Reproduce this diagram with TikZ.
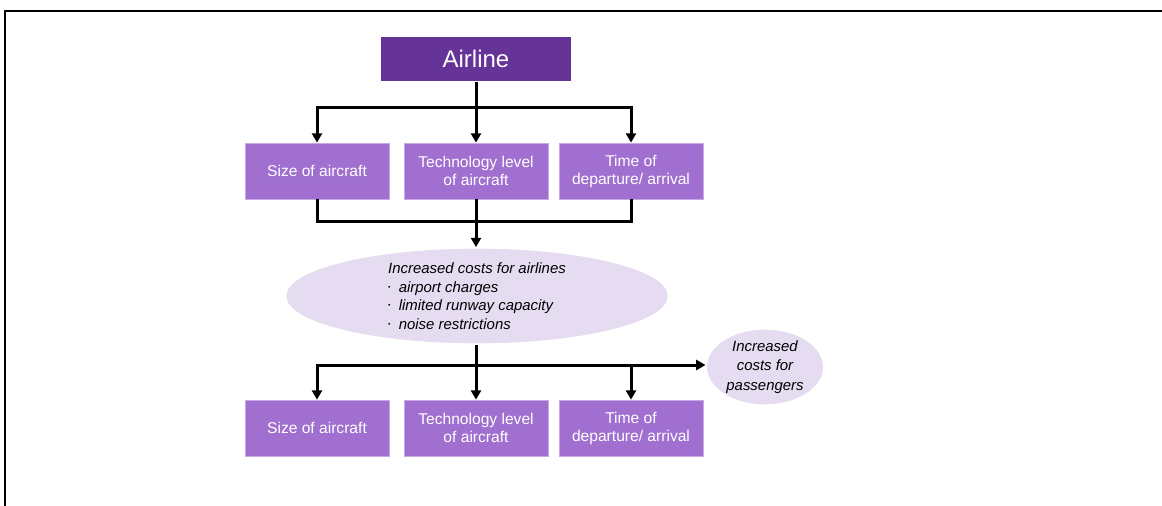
\documentclass[tikz,border=0pt]{standalone}
\usepackage{fontspec}
\setmainfont{Liberation Sans}
\usetikzlibrary{arrows.meta,shapes.geometric}
\definecolor{darkpurple}{HTML}{663399}
\definecolor{boxpurple}{HTML}{A06FCF}
\definecolor{lavender}{HTML}{E6DCF2}
\newcommand{\costdot}{\raisebox{0.18em}{\scalebox{0.45}{\textbullet}}\hspace{0.55em}}
\begin{document}
\begin{tikzpicture}[x=0.75pt,y=-0.75pt,>={Triangle[length=7pt,width=7.5pt]},line width=2.25pt]
\tikzset{
  airline/.style={fill=darkpurple,text=white,inner sep=0pt,minimum width=143pt,minimum height=33pt,font=\fontsize{18}{21}\selectfont},
  factor/.style={fill=boxpurple,draw=boxpurple!60!white,line width=0.5pt,text=white,align=center,inner sep=0pt,minimum width=108pt,minimum height=42pt,font=\fontsize{11.7}{13.5}\selectfont},
  cost/.style={ellipse,fill=lavender,inner sep=0pt,font=\fontsize{11.2}{14}\selectfont\itshape}
}
\useasboundingbox (0,0) rectangle (1162,506);
\draw[line width=1.5pt] (5,506) -- (5,11) -- (1162,11);
\node[airline] (airline) at (476,59) {Airline};
\node[factor] (size1) at (317,171) {Size of aircraft};
\node[factor] (tech1) at (476,171) {Technology level\\of aircraft};
\node[factor] (time1) at (631,171) {Time of\\departure/ arrival};
\node[cost,minimum width=286pt,minimum height=63pt,align=left] (costs) at (477,296)
  {Increased costs for airlines\\
   \costdot airport charges\\
   \costdot limited runway capacity\\
   \costdot noise restrictions};
\node[cost,minimum width=87pt,minimum height=55pt,align=center,font=\fontsize{11.2}{14.6}\selectfont\itshape] (pax) at (765,367)
  {Increased\\costs for\\passengers};
\node[factor] (size2) at (317,428) {Size of aircraft};
\node[factor] (tech2) at (476,428) {Technology level\\of aircraft};
\node[factor] (time2) at (631,428) {Time of\\departure/ arrival};
\coordinate (split1) at (476,108);
\coordinate (join1) at (476,221);
\coordinate (split2) at (476,365);
% from the airline to its choices
\draw[->] (airline) -- (tech1);
\draw[->] (split1) -| (size1);
\draw[->] (split1) -| (time1);
% choices lead to the costs
\draw (size1) |- (join1);
\draw (time1) |- (join1);
\draw[->] (tech1) -- (tech1 |- costs.north);
% costs lead back to the choices
\draw (split2 |- costs.south) -- (split2);
\draw[->] (split2) -| (size2);
\draw[->] (split2) -- (tech2);
\draw[->] (split2) -| (time2);
\draw[->] (split2) -- (split2 -| pax.west);
\end{tikzpicture}
\end{document}
